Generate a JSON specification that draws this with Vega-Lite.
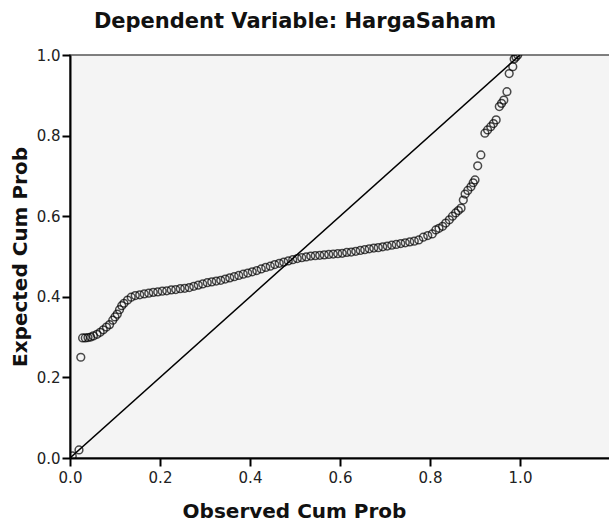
{
  "$schema": "https://vega.github.io/schema/vega-lite/v6.json",
  "autosize": {"type": "none"},
  "padding": {"left": 70, "top": 55, "right": 0, "bottom": 66},
  "width": 540,
  "height": 403,
  "background": "white",
  "title": {
    "text": "Dependent Variable: HargaSaham",
    "font": "DejaVu Sans",
    "fontSize": 21,
    "fontWeight": "bold",
    "color": "#111",
    "anchor": "middle",
    "baseline": "bottom",
    "offset": -5,
    "dx": -45
  },
  "config": {
    "view": {"fill": "#f4f4f4", "stroke": "#555", "strokeWidth": 1.5},
    "axis": {
      "grid": false,
      "labelFlush": false,
      "domainColor": "#000",
      "domainWidth": 2,
      "tickColor": "#000",
      "tickWidth": 2,
      "tickSize": 8,
      "labelFont": "DejaVu Sans",
      "labelFontSize": 15,
      "labelColor": "#222",
      "titleFont": "DejaVu Sans",
      "titleFontSize": 20,
      "titleFontWeight": "bold",
      "titleColor": "#111"
    }
  },
  "datasets": {
    "pts": [
      {"x": 0.005, "y": 0.005}, {"x": 0.02, "y": 0.02}, {"x": 0.024, "y": 0.25},
      {"x": 0.028, "y": 0.298}, {"x": 0.034, "y": 0.298}, {"x": 0.04, "y": 0.299}, {"x": 0.046, "y": 0.3},
      {"x": 0.052, "y": 0.303}, {"x": 0.06, "y": 0.307}, {"x": 0.067, "y": 0.312}, {"x": 0.074, "y": 0.318},
      {"x": 0.081, "y": 0.325}, {"x": 0.088, "y": 0.331}, {"x": 0.095, "y": 0.342}, {"x": 0.1, "y": 0.35},
      {"x": 0.105, "y": 0.357}, {"x": 0.11, "y": 0.368}, {"x": 0.115, "y": 0.378}, {"x": 0.12, "y": 0.384},
      {"x": 0.128, "y": 0.392}, {"x": 0.136, "y": 0.399}, {"x": 0.145, "y": 0.403}, {"x": 0.155, "y": 0.405},
      {"x": 0.165, "y": 0.407}, {"x": 0.175, "y": 0.409}, {"x": 0.185, "y": 0.411}, {"x": 0.195, "y": 0.412},
      {"x": 0.205, "y": 0.414}, {"x": 0.215, "y": 0.415}, {"x": 0.225, "y": 0.417}, {"x": 0.235, "y": 0.418},
      {"x": 0.245, "y": 0.42}, {"x": 0.255, "y": 0.421}, {"x": 0.265, "y": 0.423}, {"x": 0.275, "y": 0.426},
      {"x": 0.285, "y": 0.429}, {"x": 0.295, "y": 0.432}, {"x": 0.305, "y": 0.435}, {"x": 0.315, "y": 0.437},
      {"x": 0.325, "y": 0.439}, {"x": 0.335, "y": 0.441}, {"x": 0.345, "y": 0.444}, {"x": 0.355, "y": 0.447},
      {"x": 0.365, "y": 0.45}, {"x": 0.375, "y": 0.453}, {"x": 0.385, "y": 0.456}, {"x": 0.395, "y": 0.459},
      {"x": 0.405, "y": 0.462}, {"x": 0.415, "y": 0.465}, {"x": 0.425, "y": 0.469}, {"x": 0.435, "y": 0.473},
      {"x": 0.445, "y": 0.476}, {"x": 0.455, "y": 0.48}, {"x": 0.465, "y": 0.483}, {"x": 0.475, "y": 0.486},
      {"x": 0.485, "y": 0.489}, {"x": 0.495, "y": 0.492}, {"x": 0.505, "y": 0.495}, {"x": 0.515, "y": 0.497},
      {"x": 0.525, "y": 0.499}, {"x": 0.535, "y": 0.501}, {"x": 0.545, "y": 0.502}, {"x": 0.555, "y": 0.503},
      {"x": 0.565, "y": 0.504}, {"x": 0.575, "y": 0.505}, {"x": 0.585, "y": 0.506}, {"x": 0.595, "y": 0.507},
      {"x": 0.605, "y": 0.508}, {"x": 0.615, "y": 0.51}, {"x": 0.625, "y": 0.511}, {"x": 0.635, "y": 0.513},
      {"x": 0.645, "y": 0.515}, {"x": 0.655, "y": 0.517}, {"x": 0.665, "y": 0.519}, {"x": 0.675, "y": 0.521},
      {"x": 0.685, "y": 0.522}, {"x": 0.695, "y": 0.524}, {"x": 0.705, "y": 0.526}, {"x": 0.715, "y": 0.528},
      {"x": 0.725, "y": 0.53}, {"x": 0.735, "y": 0.532}, {"x": 0.745, "y": 0.534}, {"x": 0.755, "y": 0.536},
      {"x": 0.765, "y": 0.538}, {"x": 0.775, "y": 0.541}, {"x": 0.785, "y": 0.548}, {"x": 0.795, "y": 0.552},
      {"x": 0.805, "y": 0.556}, {"x": 0.813, "y": 0.566}, {"x": 0.82, "y": 0.57}, {"x": 0.828, "y": 0.575},
      {"x": 0.835, "y": 0.583}, {"x": 0.843, "y": 0.591}, {"x": 0.85, "y": 0.6}, {"x": 0.857, "y": 0.608},
      {"x": 0.863, "y": 0.614}, {"x": 0.869, "y": 0.62}, {"x": 0.874, "y": 0.64}, {"x": 0.878, "y": 0.655},
      {"x": 0.884, "y": 0.664}, {"x": 0.891, "y": 0.673}, {"x": 0.896, "y": 0.683}, {"x": 0.9, "y": 0.69},
      {"x": 0.906, "y": 0.725}, {"x": 0.913, "y": 0.752}, {"x": 0.922, "y": 0.806}, {"x": 0.928, "y": 0.814},
      {"x": 0.935, "y": 0.822}, {"x": 0.941, "y": 0.83}, {"x": 0.947, "y": 0.839}, {"x": 0.954, "y": 0.872},
      {"x": 0.959, "y": 0.88}, {"x": 0.964, "y": 0.888}, {"x": 0.971, "y": 0.909}, {"x": 0.976, "y": 0.954},
      {"x": 0.984, "y": 0.971}, {"x": 0.987, "y": 0.99}, {"x": 0.991, "y": 0.995}, {"x": 0.995, "y": 1.0}
    ],
    "diag": [{"x": 0, "y": 0}, {"x": 1, "y": 1}]
  },
  "layer": [
    {
      "data": {"name": "diag"},
      "mark": {"type": "line", "color": "#000", "strokeWidth": 1.5, "clip": true},
      "encoding": {
        "x": {"field": "x", "type": "quantitative", "scale": {"domain": [0, 1.2], "nice": false},
          "axis": {"values": [0, 0.2, 0.4, 0.6, 0.8, 1.0], "format": ".1f", "title": "Observed Cum Prob",
            "labelPadding": 4, "titleX": 224, "titleY": 53, "titleBaseline": "middle", "titleAnchor": "start", "titleAlign": "center"}},
        "y": {"field": "y", "type": "quantitative", "scale": {"domain": [0, 1], "nice": false},
          "axis": {"values": [0, 0.2, 0.4, 0.6, 0.8, 1.0], "format": ".1f", "title": "Expected Cum Prob",
            "labelPadding": 2, "titleX": -50, "titleBaseline": "middle"}}
      }
    },
    {
      "data": {"name": "pts"},
      "mark": {"type": "point", "shape": "circle", "filled": false, "color": "#000", "strokeWidth": 1.5, "size": 60, "clip": true},
      "encoding": {
        "x": {"field": "x", "type": "quantitative"},
        "y": {"field": "y", "type": "quantitative"}
      }
    }
  ]
}
